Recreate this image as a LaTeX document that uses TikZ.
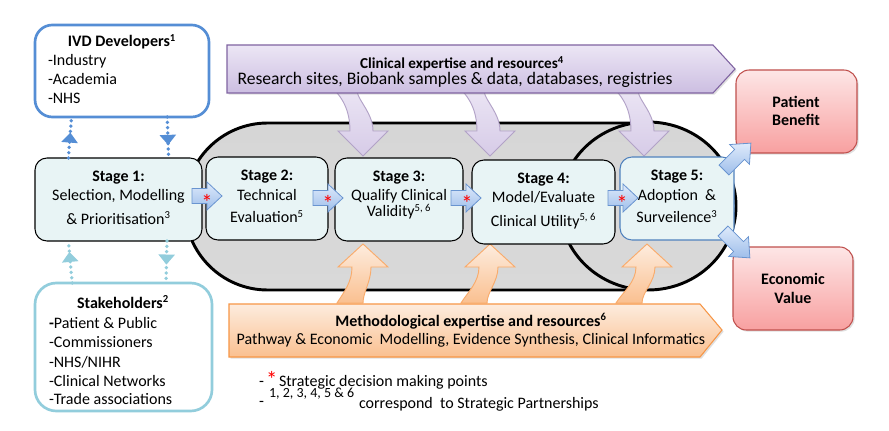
\documentclass[tikz,border=0pt]{standalone}
\usepackage{fontspec}
\setmainfont{Carlito}
\usetikzlibrary{arrows.meta,decorations.markings,calc,fit,shadows}
\definecolor{ivdblue}{RGB}{85,142,213}
\definecolor{stkblue}{RGB}{146,205,220}
\definecolor{stagefill}{RGB}{232,244,245}
\definecolor{purpB}{RGB}{128,100,162}
\definecolor{purpT}{RGB}{236,230,245}
\definecolor{purpBot}{RGB}{204,190,225}
\definecolor{purpA}{RGB}{178,162,199}
\definecolor{orgB}{RGB}{247,150,70}
\definecolor{orgT}{RGB}{253,236,222}
\definecolor{orgBot}{RGB}{250,192,144}
\definecolor{pinkT}{RGB}{253,230,230}
\definecolor{pinkBot}{RGB}{248,160,160}
\definecolor{redB}{RGB}{192,80,77}
\definecolor{arrT}{RGB}{222,234,251}
\definecolor{arrBot}{RGB}{158,190,234}
\definecolor{arrB}{RGB}{105,148,208}
\definecolor{stage5B}{RGB}{79,129,189}
\tikzset{
  txt/.style={anchor=base},
  txtl/.style={anchor=base west},
  bt/.style={anchor=base,font=\fontsize{12}{14}\selectfont\bfseries},
  stagebox/.style={draw=black,line width=0.8pt,fill=stagefill,rounded corners=9pt},
  outbox/.style={draw=redB,line width=0.8pt,top color=pinkT,bottom color=pinkBot,rounded corners=10pt,
    drop shadow={opacity=0.25,shadow xshift=1.2pt,shadow yshift=-1.2pt}},
  blockarr/.style={draw=arrB,line width=0.6pt,top color=arrT,bottom color=arrBot},
  ast/.style={anchor=base,text=red,font=\fontsize{17}{17}\selectfont},
  dotarrow/.style={line width=2.8pt,dash pattern=on 0pt off 4pt,line cap=round,
    postaction={decorate},
    decoration={markings,mark=at position #1 with {\arrow{Triangle[width=12pt,length=7.5pt]}}}},
  purparr/.style={draw=purpA,line width=0.7pt,top color=purpT,bottom color=purpBot!80},
  orgarr/.style={draw=orgB!80,line width=0.7pt,top color=orgT,bottom color=orgBot},
}
\newcommand\purpcurve[2]{%
  \path[purparr] ({#1-14},86) .. controls ({#1-2},96) and ({#2-12},110) .. ({#2-12},131)
    -- ({#2-24},131) -- ({#2+1},156) -- ({#2+26},131) -- ({#2+11},131)
    .. controls ({#2+11},110) and ({#1+8},96) .. ({#1+14},86) -- cycle;}
\newcommand\orgcurve[2]{%
  \path[orgarr] ({#1-13},303) .. controls ({#1-6},292) and ({#2-10},282) .. ({#2-10},267)
    -- ({#2-24},267) -- ({#2+1},244) -- ({#2+26},267) -- ({#2+9},267)
    .. controls ({#2+9},282) and ({#1+13},292) .. ({#1+13},303) -- cycle;}
\newcommand\smallarr[2]{%
  \path[blockarr] (#1,{#2-7.5}) -- ({#1+15},{#2-7.5}) -- ({#1+15},{#2-14}) -- ({#1+30},#2)
    -- ({#1+15},{#2+14}) -- ({#1+15},{#2+7.5}) -- (#1,{#2+7.5}) -- cycle;}
\begin{document}
\begin{tikzpicture}[x=0.75pt,y=-0.75pt,every node/.style={inner sep=0pt,outer sep=0pt},
  font=\fontsize{12}{14}\selectfont]
\useasboundingbox (0,0) rectangle (889,431);
\fill[white] (0,0) rectangle (889,431);

% grey capsule and circle
\draw[line width=2.2pt,rounded corners=62pt,top color=gray!32,middle color=gray!8,bottom color=gray!30]
  (185,123) rectangle (711,290);
\draw[line width=2.2pt,top color=gray!32,middle color=gray!8,bottom color=gray!30]
  (648,206) ellipse [x radius=66pt,y radius=63pt];

% curved resource arrows
\purpcurve{344}{362}
\purpcurve{471}{489}
\purpcurve{625}{643}
\orgcurve{350}{362}
\orgcurve{474}{489}
\orgcurve{629}{646}

% banners
\path[draw=purpB,line width=0.8pt,top color=purpT,bottom color=purpBot,
  drop shadow={opacity=0.25,shadow xshift=1.2pt,shadow yshift=-1.2pt}]
  (227,45) -- (713,45) -- (735,69) -- (713,93) -- (227,93) -- cycle;
\node[bt,font=\fontsize{11.4}{13}\selectfont\bfseries] (clinT) at (462,69) {Clinical expertise and resources\textsuperscript{4}};
\node[txt,font=\fontsize{13.2}{15}\selectfont] (clinS) at (455,85) {Research sites, Biobank samples \& data, databases, registries};

\path[draw=orgB,line width=0.8pt,top color=orgT,bottom color=orgBot,
  drop shadow={opacity=0.25,shadow xshift=1.2pt,shadow yshift=-1.2pt}]
  (229,304) -- (700,304) -- (722,330) -- (700,357) -- (229,357) -- cycle;
\node[bt] (methT) at (471,326) {Methodological expertise and resources\textsuperscript{6}};
\node[txt] (methS) at (471,344) {Pathway \& Economic\ \ Modelling, Evidence Synthesis, Clinical Informatics};

% IVD developers
\node[draw=ivdblue,line width=2pt,rounded corners=13pt,fill=white,fit={(35,25)(209,117)}] (ivd) {};
\node[bt] (ivdT) at (122,47) {IVD Developers\textsuperscript{1}};
\node[txtl] (ivd1) at (48,66) {-Industry};
\node[txtl] (ivd2) at (48,85) {-Academia};
\node[txtl] (ivd3) at (48,104) {-NHS};

% Stakeholders
\node[draw=stkblue,line width=2pt,rounded corners=16pt,fill=white,fit={(35,283)(212,411)}] (stk) {};
\node[bt] (stkT) at (123,308) {Stakeholders\textsuperscript{2}};
\node[txtl] (stk1) at (49,328) {\textbf{-}Patient \& Public};
\node[txtl] (stk2) at (49,347) {-Commissioners};
\node[txtl] (stk3) at (49,367) {-NHS/NIHR};
\node[txtl] (stk4) at (49,386) {-Clinical Networks};
\node[txtl] (stk5) at (49,404) {-Trade associations};

% stage boxes
\node[stagebox,fit={(35,158)(202,241)}] (s1) {};
\node[bt] (s1a) at (118.5,182) {Stage 1:};
\node[txt] (s1b) at (118.5,201) {Selection, Modelling};
\node[txt] (s1c) at (118.5,224) {\& Prioritisation\textsuperscript{3}};

\node[stagebox,fit={(206,157)(328,240)}] (s2) {};
\node[bt] (s2a) at (267,181) {Stage 2:};
\node[txt] (s2b) at (267,200) {Technical};
\node[txt] (s2c) at (267,223) {Evaluation\textsuperscript{5}};

\node[stagebox,fit={(335,158)(463,241)}] (s3) {};
\node[bt] (s3a) at (399,182) {Stage 3:};
\node[txt] (s3b) at (399,201) {Qualify Clinical};
\node[txt] (s3c) at (399,217) {Validity\textsuperscript{5, 6}};

\node[stagebox,fit={(472,160)(615,244)}] (s4) {};
\node[bt] (s4a) at (543.5,184) {Stage 4:};
\node[txt] (s4b) at (543.5,203) {Model/Evaluate};
\node[txt] (s4c) at (543.5,226) {Clinical Utility\textsuperscript{5, 6}};

\node[stagebox,draw=stage5B,fit={(620,157)(734,240)}] (s5) {};
\node[bt] (s5a) at (677,181) {Stage 5:};
\node[txt] (s5b) at (677,200) {Adoption\ \ \&};
\node[txt] (s5c) at (677,223) {Surveilence\textsuperscript{3}};

% dotted links
\draw[ivdblue,dotarrow=0.62] ($(s1.north west)!0.20!(s1.north east)$) -- ($(ivd.south west)!0.21!(ivd.south east)$);
\draw[ivdblue,dotarrow=0.68] ($(ivd.south west)!0.76!(ivd.south east)$) -- ($(s1.north west)!0.8!(s1.north east)$);
\draw[stkblue,dotarrow=0.74] ($(stk.north west)!0.21!(stk.north east)$) -- ($(s1.south west)!0.2!(s1.south east)$);
\draw[stkblue,dotarrow=0.56] ($(s1.south west)!0.79!(s1.south east)$) -- ($(stk.north west)!0.74!(stk.north east)$);

% stage arrows with decision points
\smallarr{192}{196}
\smallarr{313}{198}
\smallarr{451}{198}
\smallarr{608}{198}
\node[ast] (d1) at (207,210) {*};
\node[ast] (d2) at (328,212) {*};
\node[ast] (d3) at (467,212) {*};
\node[ast] (d4) at (622,212) {*};

% outcome boxes
\node[outbox,fit={(736,70)(857,153)}] (pb) {};
\node[bt] (pb1) at (796,108) {Patient};
\node[bt] (pb2) at (796,126) {Benefit};
\node[outbox,fit={(733,247)(853,330)}] (ev) {};
\node[bt] (ev1) at (793,284) {Economic};
\node[bt] (ev2) at (793,303) {Value};

\begin{scope}[shift={(724,170)},rotate=45]
  \path[blockarr] (0,-7) -- (22,-7) -- (22,-14) -- (38,0) -- (22,14) -- (22,7) -- (0,7) -- cycle;
\end{scope}
\begin{scope}[shift={(723,231)},rotate=-45]
  \path[blockarr] (0,-7) -- (22,-7) -- (22,-14) -- (38,0) -- (22,14) -- (22,7) -- (0,7) -- cycle;
\end{scope}

% legend
\node[txtl] (lg1d) at (259,386) {-};
\node[ast,anchor=base west] (lg1s) at (266,387) {*};
\node[txtl] (lg1) at (279,386) {Strategic decision making points};
\node[txtl] (lg2d) at (259,406) {-};
\node[txtl,font=\fontsize{10.5}{11}\selectfont] (lg2n) at (269,397) {1, 2, 3, 4, 5 \& 6};
\node[txtl] (lg2) at (359,408) {correspond\ \ to Strategic Partnerships};
\end{tikzpicture}
\end{document}
